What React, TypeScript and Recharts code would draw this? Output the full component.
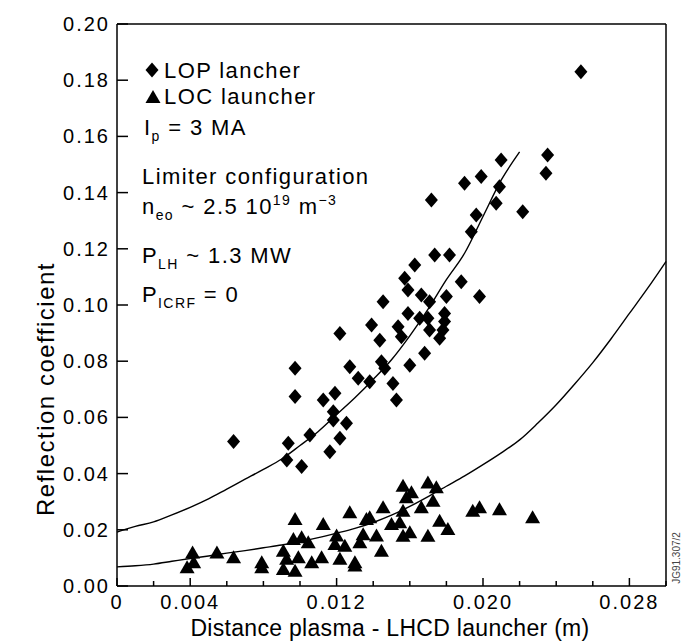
import React from 'react';
import { ComposedChart, Scatter, Line, XAxis, YAxis, ReferenceLine } from 'recharts';

const FONT = '"Liberation Sans", Arial, Helvetica, sans-serif';

// LOP launcher measurements: [distance (m), reflection coefficient]
const lopPoints: [number, number][] = [
  [0.00637, 0.0514], [0.00936, 0.0508], [0.00928, 0.0448], [0.01009, 0.0425],
  [0.00973, 0.0674], [0.00973, 0.0775], [0.01054, 0.0537], [0.01163, 0.0478],
  [0.01127, 0.0662], [0.01191, 0.0686], [0.01182, 0.0620], [0.01182, 0.0591],
  [0.01254, 0.0579], [0.01218, 0.0526], [0.01218, 0.0899], [0.01272, 0.0780],
  [0.01318, 0.0739], [0.01381, 0.0727], [0.01391, 0.0929], [0.01445, 0.0798],
  [0.01463, 0.0775], [0.01436, 0.0875], [0.01454, 0.1012], [0.01508, 0.0721],
  [0.01527, 0.0662], [0.01536, 0.0923], [0.01554, 0.0887], [0.0159, 0.0970],
  [0.01572, 0.1095], [0.0159, 0.1053], [0.01627, 0.1142], [0.016, 0.0786],
  [0.01663, 0.1036], [0.01654, 0.0953], [0.01681, 0.0828], [0.01699, 0.0953],
  [0.01708, 0.1012], [0.01708, 0.0911], [0.01736, 0.1178], [0.01817, 0.1178],
  [0.018, 0.1030], [0.0179, 0.0970], [0.0179, 0.0941], [0.01781, 0.0911],
  [0.01763, 0.0882], [0.01881, 0.1083], [0.01981, 0.1030], [0.01718, 0.1374],
  [0.01936, 0.1261], [0.01963, 0.1320], [0.02072, 0.1362], [0.0209, 0.1421],
  [0.01899, 0.1433], [0.0199, 0.1457], [0.02099, 0.1516], [0.02217, 0.1332],
  [0.02344, 0.1469], [0.02353, 0.1534], [0.02535, 0.1830],
];

// LOC launcher measurements
const locPoints: [number, number][] = [
  [0.00413, 0.0116], [0.00419, 0.0081], [0.00383, 0.0063], [0.00546, 0.0116],
  [0.00637, 0.0099], [0.00791, 0.0081], [0.00791, 0.0063], [0.00909, 0.0122],
  [0.00973, 0.0235], [0.00964, 0.0164], [0.01009, 0.0170], [0.01045, 0.0152],
  [0.00927, 0.0093], [0.00991, 0.0099], [0.00909, 0.0057], [0.00973, 0.0051],
  [0.01064, 0.0081], [0.01118, 0.0099], [0.01127, 0.0217], [0.0120, 0.0176],
  [0.01191, 0.0146], [0.01245, 0.0140], [0.01218, 0.0093], [0.0130, 0.0081],
  [0.0130, 0.0069], [0.01272, 0.0259], [0.01345, 0.0181], [0.01327, 0.0152],
  [0.01363, 0.0235], [0.01381, 0.0241], [0.01418, 0.0176], [0.01445, 0.0122],
  [0.01454, 0.0277], [0.0150, 0.0217], [0.01545, 0.0223], [0.01563, 0.0264],
  [0.01563, 0.0353], [0.01609, 0.0330], [0.01581, 0.0312], [0.01563, 0.0175],
  [0.0160, 0.0188], [0.01663, 0.0277], [0.01699, 0.0365], [0.01745, 0.0348],
  [0.01727, 0.0300], [0.01699, 0.0175], [0.01763, 0.0229], [0.01808, 0.0199],
  [0.01944, 0.0264], [0.01981, 0.0277], [0.0209, 0.0270], [0.02271, 0.0241],
];

// fitted curves
const lopFitDistance = [0, 0.001, 0.002, 0.003, 0.004, 0.005, 0.006, 0.007, 0.008, 0.009, 0.010, 0.011,
  0.012, 0.013, 0.014, 0.015, 0.016, 0.017, 0.018, 0.019, 0.020, 0.021, 0.022];
const lopFitValues = [0.0192, 0.0212, 0.0228, 0.0253, 0.028, 0.031, 0.0345, 0.038, 0.0415, 0.0452, 0.050, 0.055,
  0.061, 0.067, 0.0735, 0.0805, 0.089, 0.0985, 0.109, 0.1185, 0.1315, 0.1445, 0.1545];

const locFitDistance = [0, 0.001, 0.002, 0.003, 0.004, 0.005, 0.006, 0.007, 0.008, 0.009, 0.010, 0.011,
  0.012, 0.013, 0.014, 0.015, 0.016, 0.017, 0.018, 0.019, 0.020, 0.021, 0.022, 0.023, 0.024, 0.025,
  0.026, 0.027, 0.028, 0.029, 0.030];
const locFitValues = [0.0068, 0.0072, 0.0078, 0.0088, 0.0098, 0.0107, 0.0117, 0.0126, 0.0136, 0.0146, 0.0158, 0.0172,
  0.0188, 0.0205, 0.0226, 0.0252, 0.0283, 0.0318, 0.0355, 0.0392, 0.0432, 0.0474, 0.052, 0.058, 0.0645, 0.0718,
  0.0795, 0.088, 0.097, 0.106, 0.1155];

const xTicks = [0, 0.002, 0.004, 0.006, 0.008, 0.010, 0.012, 0.014, 0.016, 0.018, 0.020, 0.022, 0.024, 0.026, 0.028, 0.030];
const xTickLabels = [0, 0.004, 0.012, 0.020, 0.028];
const yTicks = [0, 0.02, 0.04, 0.06, 0.08, 0.10, 0.12, 0.14, 0.16, 0.18, 0.20];

const lopData = lopPoints.map(([x, y]) => ({ x, y }));
const locData = locPoints.map(([x, y]) => ({ x, y }));
const lopFit = lopFitDistance.map((x, i) => ({ x, y: lopFitValues[i] }));
const locFit = locFitDistance.map((x, i) => ({ x, y: locFitValues[i] }));

const diamondPts = (cx: number, cy: number) =>
  `${cx},${cy - 7.5} ${cx + 6.5},${cy} ${cx},${cy + 7.5} ${cx - 6.5},${cy}`;
const trianglePts = (cx: number, cy: number) =>
  `${cx},${cy - 8} ${cx + 7.5},${cy + 5} ${cx - 7.5},${cy + 5}`;

const Diamond = (props: any) => <polygon points={diamondPts(props.cx, props.cy)} fill="#000" />;
const Triangle = (props: any) => <polygon points={trianglePts(props.cx, props.cy)} fill="#000" />;

const XTick = ({ x, y, payload }: any) => {
  const v = payload.value;
  const labeled = xTickLabels.some((l) => Math.abs(l - v) < 1e-9);
  return (
    <g>
      <line x1={x} x2={x} y1={y} y2={y - (labeled ? 8 : 5)} stroke="#000" strokeWidth={1.5} />
      {labeled && (
        <text x={x} y={y + 23} textAnchor="middle" fontFamily={FONT} fontSize={20} letterSpacing={2} fill="#000">
          {v === 0 ? '0' : v.toFixed(3)}
        </text>
      )}
    </g>
  );
};

const YTick = ({ x, y, payload }: any) => (
  <g>
    <line x1={x} x2={x + 11} y1={y} y2={y} stroke="#000" strokeWidth={1.5} />
    <text x={x - 7} y={y + 7} textAnchor="end" fontFamily={FONT} fontSize={20} letterSpacing={2} fill="#000">
      {payload.value.toFixed(2)}
    </text>
  </g>
);

const annot = { fontFamily: FONT, fontSize: 22, letterSpacing: 1.4, fill: '#000' };

export default function App() {
  return (
    <div style={{ position: 'absolute', left: 0, top: 0, width: 683, height: 644, background: '#fff' }}>
      <ComposedChart width={683} height={644} margin={{ top: 24, right: 17, bottom: 0, left: 0 }}>
        <XAxis
          type="number"
          dataKey="x"
          domain={[0, 0.03]}
          ticks={xTicks}
          interval={0}
          height={58}
          tickSize={0}
          tickMargin={0}
          tickLine={false}
          tick={<XTick />}
          axisLine={{ stroke: '#000', strokeWidth: 1.5 }}
        />
        <YAxis
          type="number"
          domain={[0, 0.2]}
          ticks={yTicks}
          interval={0}
          width={117}
          tickSize={0}
          tickMargin={0}
          tickLine={false}
          tick={<YTick />}
          axisLine={{ stroke: '#000', strokeWidth: 1.5 }}
        />
        <ReferenceLine y={0.2} stroke="#000" strokeWidth={1.5} />
        <ReferenceLine x={0.03} stroke="#000" strokeWidth={1.5} />
        <Line data={lopFit} dataKey="y" type="monotone" stroke="#000" strokeWidth={1.4} dot={false} isAnimationActive={false} />
        <Line data={locFit} dataKey="y" type="monotone" stroke="#000" strokeWidth={1.4} dot={false} isAnimationActive={false} />
        <Scatter name="LOP lancher" data={lopData} dataKey="y" shape={<Diamond />} isAnimationActive={false} />
        <Scatter name="LOC launcher" data={locData} dataKey="y" shape={<Triangle />} isAnimationActive={false} />
      </ComposedChart>
      <svg width={683} height={644} style={{ position: 'absolute', left: 0, top: 0, pointerEvents: 'none' }}>
        <polygon points={diamondPts(152, 70)} fill="#000" />
        <text x={164} y={78} {...annot}>LOP lancher</text>
        <polygon points={trianglePts(153, 98)} fill="#000" />
        <text x={164} y={104} {...annot}>LOC launcher</text>
        <text x={144} y={135} {...annot}>
          I<tspan fontSize={14} dy={6}>p</tspan><tspan dy={-6}> = 3 MA</tspan>
        </text>
        <text x={142} y={184} {...annot}>Limiter configuration</text>
        <text x={142} y={214} {...annot}>
          n<tspan fontSize={14} dy={6}>eo</tspan>
          <tspan dy={-6}> ~ 2.5 10</tspan>
          <tspan fontSize={14} dy={-9}>19</tspan>
          <tspan dy={9}> m</tspan>
          <tspan fontSize={14} dy={-9}>−3</tspan>
        </text>
        <text x={142} y={263} {...annot}>
          P<tspan fontSize={14} dy={6}>LH</tspan><tspan dy={-6}> ~ 1.3 MW</tspan>
        </text>
        <text x={142} y={302} {...annot}>
          P<tspan fontSize={14} dy={6}>ICRF</tspan><tspan dy={-6}> = 0</tspan>
        </text>
        <text
          transform="translate(45,389) rotate(-90)"
          textAnchor="middle"
          dominantBaseline="central"
          fontFamily={FONT}
          fontSize={24}
          letterSpacing={1.5}
          fill="#000"
        >
          Reflection coefficient
        </text>
        <text x={390} y={636} textAnchor="middle" fontFamily={FONT} fontSize={23} letterSpacing={0.3} fill="#000">
          Distance plasma - LHCD launcher (m)
        </text>
        <text transform="translate(680,558) rotate(-90)" textAnchor="middle" fontFamily={FONT} fontSize={10} fill="#444">
          JG91.307/2
        </text>
      </svg>
    </div>
  );
}
